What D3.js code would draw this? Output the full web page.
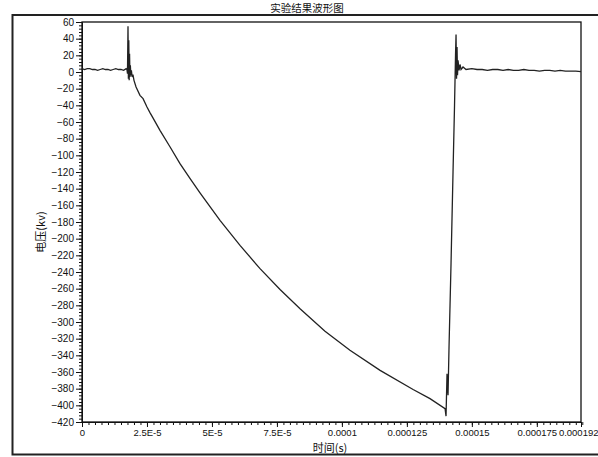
<!DOCTYPE html>
<html>
<head>
<meta charset="utf-8">
<script src="https://cdn.jsdelivr.net/npm/d3@7"></script>
<style>
  body { margin: 0; background: #fff; }
  svg { display: block; }
  .axis text { font-family: "Liberation Sans", Arial, sans-serif; font-size: 10px; fill: #111; }
  .axis path, .axis line { stroke: #111; }
  .x.axis text { font-size: 9.5px; }
</style>
</head>
<body>
<div id="chart"></div>
<script>
// time in microseconds, voltage in kV
var timeUs = [0, 1, 2, 3, 4, 5, 6, 7, 8, 9, 10, 11, 12, 13, 14, 15, 16, 17, 17.3,
  17.5, 17.7, 17.85, 18.0, 18.15, 18.3, 18.45, 18.6, 18.8, 19.0, 19.3, 19.6, 20.0,
  20.8, 22.3, 23.5, 25.0, 26.2, 27.3, 30.0, 33.9, 37.7, 41.6, 45.4, 53.1, 60.8, 68.5,
  76.2, 83.9, 93.5, 103.1, 114.7, 127.4, 133.9, 139.7,
  140.07, 140.45, 140.84, 141.22, 141.99, 142.76, 143.34, 143.72, 143.92, 144.11,
  144.30, 144.49, 144.69, 145.07, 145.45, 145.84, 146.61, 147.76,
  150, 152, 154, 156, 158, 160, 162, 164, 166, 168, 170, 172, 174, 176, 178, 180,
  182, 184, 186, 188, 190, 192];
var voltage = [4, 3, 4, 4, 3, 3, 2, 3, 4, 3, 3, 2, 3, 4, 3, 3, 2, 4, 3,
  -2, 55, -8, 38, -10, 22, -6, 8, -4, 2, -6, -3, -10,
  -18, -28, -32, -42, -49, -55, -70, -90, -110, -128, -145, -178, -208, -236,
  -261, -284, -311, -334, -358, -381, -392, -404,
  -413, -362, -388, -330, -230, -120, -40, 20, 45, -8,
  30, -4, 14, 2, 9, 3, 6, 3,
  4, 3, 3, 2, 3, 3, 2, 3, 2, 2, 3, 2, 2, 1, 2, 2,
  1, 2, 1, 1, 1, 0.5];

var xTickValues = [0, 2.5e-5, 5e-5, 7.5e-5, 1e-4, 1.25e-4, 1.5e-4, 1.75e-4, 1.92e-4];
var xTickLabels = ["0", "2.5E-5", "5E-5", "7.5E-5", "0.0001", "0.000125", "0.00015", "0.000175", "0.000192"];
var yTickValues = [60, 40, 20, 0, -20, -40, -60, -80, -100, -120, -140, -160, -180, -200,
  -220, -240, -260, -280, -300, -320, -340, -360, -380, -400, -420];

var width = 598, height = 457;
var margin = {top: 22, right: 17, bottom: 35, left: 82};
var pw = width - margin.left - margin.right;
var ph = height - margin.top - margin.bottom;

var svg = d3.select('#chart').append('svg')
    .attr('width', width)
    .attr('height', height);

// outer frame
svg.append('path')
    .attr('d', 'M598,15 L12.5,15 L12.5,454.5 L598,454.5')
    .attr('fill', 'none')
    .attr('stroke', '#222')
    .attr('stroke-width', 2);

svg.append('text')
    .attr('x', 307).attr('y', 12)
    .attr('text-anchor', 'middle')
    .style('font-family', '"Noto Sans CJK SC", sans-serif')
    .style('font-size', '10.5px')
    .attr('fill', '#111')
    .text('实验结果波形图');

var g = svg.append('g')
    .attr('transform', 'translate(' + margin.left + ',' + margin.top + ')');

var x = d3.scaleLinear().domain([0, 1.92e-4]).range([0, pw]);
var y = d3.scaleLinear().domain([-420, 60]).range([ph, 0]);

// plot box
g.append('rect')
    .attr('width', pw).attr('height', ph)
    .attr('fill', '#fff')
    .attr('stroke', '#111')
    .attr('stroke-width', 1.3);

// minor ticks
g.append('g')
    .attr('class', 'axis')
    .attr('transform', 'translate(0,' + ph + ')')
    .call(d3.axisBottom(x).tickValues(d3.range(0, 193, 2.5).map(function(d) { return d * 1e-6; }))
        .tickSize(3).tickFormat(''))
    .select('.domain').remove();
g.append('g')
    .attr('class', 'axis')
    .call(d3.axisLeft(y).tickValues(d3.range(-420, 61, 4)).tickSize(3).tickFormat(''))
    .select('.domain').remove();

// major ticks
var xAxis = g.append('g')
    .attr('class', 'x axis')
    .attr('transform', 'translate(0,' + ph + ')')
    .call(d3.axisBottom(x).tickValues(xTickValues).tickSize(5).tickPadding(2)
        .tickFormat(function(d, i) { return xTickLabels[i]; }));
// last label sits flush against the previous one, as in the original
xAxis.selectAll('.tick text')
    .filter(function(d, i) { return i === xTickValues.length - 1; })
    .attr('text-anchor', 'end')
    .attr('dx', 17);
g.append('g')
    .attr('class', 'axis')
    .call(d3.axisLeft(y).tickValues(yTickValues).tickSize(6).tickPadding(2));

// axis titles
svg.append('text')
    .attr('x', 330).attr('y', 452)
    .attr('text-anchor', 'middle')
    .style('font-family', '"Noto Sans CJK SC", sans-serif')
    .style('font-size', '11px')
    .attr('fill', '#111')
    .text('时间(s)');
svg.append('text')
    .attr('transform', 'translate(45,232) rotate(-90)')
    .attr('text-anchor', 'middle')
    .style('font-family', '"Noto Sans CJK SC", sans-serif')
    .style('font-size', '11px')
    .attr('fill', '#111')
    .text('电压(kv)');

var line = d3.line()
    .x(function(d, i) { return x(timeUs[i] * 1e-6); })
    .y(function(d) { return y(d); });

g.append('path')
    .datum(voltage)
    .attr('d', line)
    .attr('fill', 'none')
    .attr('stroke', '#222')
    .attr('stroke-width', 1.3);
</script>
</body>
</html>
